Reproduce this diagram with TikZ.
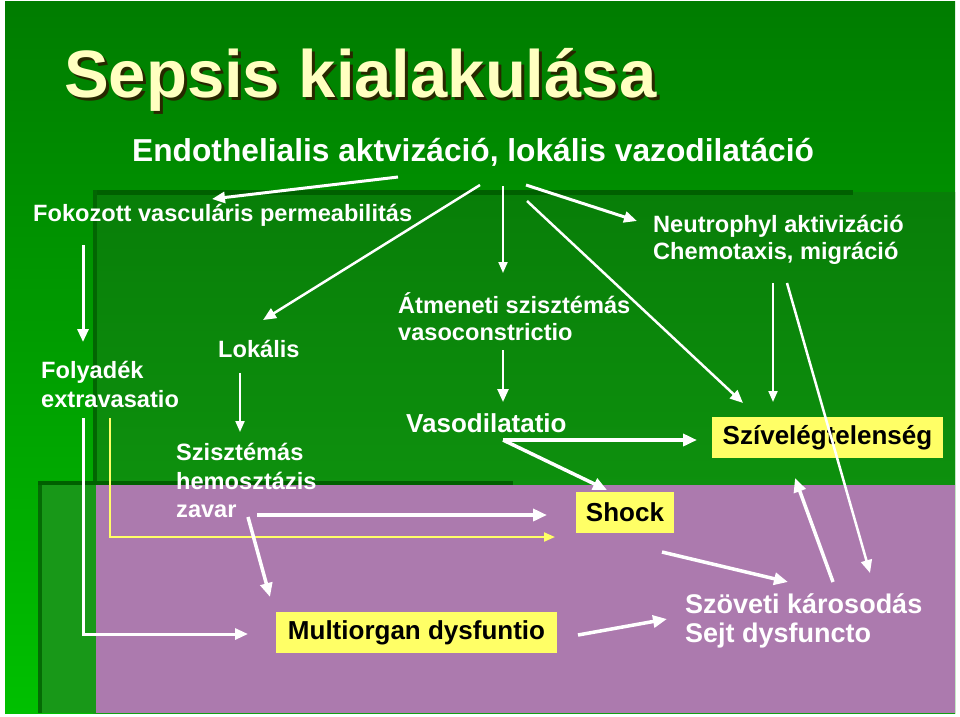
\documentclass[tikz,border=0pt]{standalone}
\usepackage{fontspec}
\setmainfont{Liberation Sans}
\usetikzlibrary{arrows.meta}
\definecolor{bgtop}{RGB}{0,124,0}
\definecolor{bgbot}{RGB}{0,192,0}
\definecolor{intop}{RGB}{8,126,8}
\definecolor{inbot}{RGB}{18,158,18}
\definecolor{edgegreen}{RGB}{0,96,0}
\definecolor{llgreen}{RGB}{24,152,24}
\definecolor{mauve}{RGB}{172,122,174}
\definecolor{boxyellow}{RGB}{255,255,102}
\definecolor{titleyellow}{RGB}{255,255,192}
\definecolor{titleshadow}{RGB}{40,40,0}
\begin{document}
\begin{tikzpicture}[x=1pt,y=-1pt,
  wtext/.style={white,inner sep=0pt,anchor=base west,font=\bfseries\fontsize{23.6}{28}\selectfont},
  ybox/.style={fill=boxyellow,inner sep=0pt,text=black,font=\bfseries\fontsize{26}{30}\selectfont},
  arr/.style={white,line width=3pt,-{Triangle[length=13pt,width=11pt]}},
  arrthin/.style={white,line width=2pt,-{Triangle[length=11pt,width=9pt]}},
  arrthick/.style={white,line width=3.5pt,-{Triangle[length=14pt,width=12pt]}}]
\useasboundingbox (0,0) rectangle (960,716);
% background
\fill[white] (0,0) rectangle (960,716);
\shade[top color=bgtop,bottom color=bgbot] (5,1) rectangle (955,713);
\shade[top color=intop,bottom color=inbot] (93,192) rectangle (955,713);
\fill[edgegreen] (93,190) rectangle (853,195);
\fill[edgegreen!80!intop] (93,190) rectangle (97,713);
\fill[llgreen] (38,482) rectangle (96,713);
\fill[edgegreen!80!llgreen] (38,482) rectangle (42,713);
\fill[mauve] (96,485) rectangle (955,713);
\fill[edgegreen] (38,481) rectangle (513,485);
% title (with its shadow in the same node)
\node[inner sep=0pt,anchor=base west,font=\bfseries\fontsize{67}{72}\selectfont] (title) at (64,97)
  {\rlap{\kern3pt\raisebox{-3pt}[0pt][0pt]{\color{titleshadow}Sepsis kialakulása}}\color{titleyellow}Sepsis kialakulása};
% texts
\node[wtext,font=\bfseries\fontsize{31.7}{36}\selectfont] (endo) at (132,161) {Endothelialis aktvizáció, lokális vazodilatáció};
\node[wtext] (fok) at (33,221) {Fokozott vasculáris permeabilitás};
\node[wtext] (neu1) at (653,232) {Neutrophyl aktivizáció};
\node[wtext] (neu2) at (653,259) {Chemotaxis, migráció};
\node[wtext] (atm1) at (398,313) {Átmeneti szisztémás};
\node[wtext] (atm2) at (398,340) {vasoconstrictio};
\node[wtext] (lok) at (218,357) {Lokális};
\node[wtext] (fol1) at (41,378) {Folyadék};
\node[wtext] (fol2) at (41,407) {extravasatio};
\node[wtext,font=\bfseries\fontsize{26}{30}\selectfont] (vaso) at (406,432) {Vasodilatatio};
\node[wtext] (szi1) at (176,460) {Szisztémás};
\node[wtext] (szi2) at (176,489) {hemosztázis};
\node[wtext] (szi3) at (176,517) {zavar};
\node[wtext,font=\bfseries\fontsize{27}{31}\selectfont] (szo1) at (685,613) {Szöveti károsodás};
\node[wtext,font=\bfseries\fontsize{27}{31}\selectfont] (szo2) at (685,642) {Sejt dysfuncto};
% yellow boxes
\node[ybox,minimum width=231pt,minimum height=41pt] (sziv) at (827.5,437.5) {Szívelégtelenség};
\node[ybox,minimum width=98pt,minimum height=41pt] (shock) at (625,512.5) {Shock};
\node[ybox,minimum width=281pt,minimum height=41pt] (multi) at (416.5,632.5) {Multiorgan dysfuntio};
% connector end points
\coordinate (e1s) at (398,177); \coordinate (e1e) at (212,199);
\coordinate (e2s) at (480,185); \coordinate (e2e) at (263,320);
\coordinate (e3s) at (503,186); \coordinate (e3e) at (503,273);
\coordinate (e4s) at (526,185); \coordinate (e4e) at (637,221);
\coordinate (e5s) at (527,201); \coordinate (e5e) at (743,403);
\coordinate (n1s) at (773,283); \coordinate (n1e) at (773,402);
\coordinate (n2s) at (787,283); \coordinate (n2e) at (870,573);
\coordinate (t1s) at (833,582); \coordinate (t1e) at (795,478);
\coordinate (f1s) at (83,245);  \coordinate (f1e) at (83,342);
\coordinate (l1s) at (240,373); \coordinate (l1e) at (240,432);
\coordinate (v1s) at (503,350); \coordinate (v1e) at (503,402);
\coordinate (v2s) at (503,440); \coordinate (v2e) at (697,440);
\coordinate (v3e) at (607,490);
\coordinate (z1s) at (257,515); \coordinate (z1e) at (547,515);
\coordinate (y1s) at (110,418); \coordinate (y1e) at (555,537);
\coordinate (w1s) at (83,418);  \coordinate (w1e) at (248,634);
\coordinate (z2s) at (248,517); \coordinate (z2e) at (270,597);
\coordinate (m1s) at (578,635); \coordinate (m1e) at (667,619);
\coordinate (s1s) at (662,552); \coordinate (s1e) at (788,582);
% connectors
\draw[arr] (e1s) -- (e1e);
\draw[arr,line width=2.5pt] (e2s) -- (e2e);
\draw[arrthin] (e3s) -- (e3e);
\draw[arr] (e4s) -- (e4e);
\draw[arr,line width=2.5pt] (e5s) -- (e5e);
\draw[arrthin] (n1s) -- (n1e);
\draw[arr,line width=2.5pt] (n2s) -- (n2e);
\draw[arrthick] (t1s) -- (t1e);
\draw[arr] (f1s) -- (f1e);
\draw[arrthin] (l1s) -- (l1e);
\draw[arr,line width=2.5pt] (v1s) -- (v1e);
\draw[arrthick] (v2s) -- (v2e);
\draw[arrthick] (v2s) -- (v3e);
\draw[arrthick,line width=4pt] (z1s) -- (z1e);
\draw[arrthin,boxyellow] (y1s) |- (y1e);
\draw[arr] (w1s) |- (w1e);
\draw[arrthick] (z2s) -- (z2e);
\draw[arrthick] (m1s) -- (m1e);
\draw[arrthick] (s1s) -- (s1e);
\end{tikzpicture}
\end{document}
